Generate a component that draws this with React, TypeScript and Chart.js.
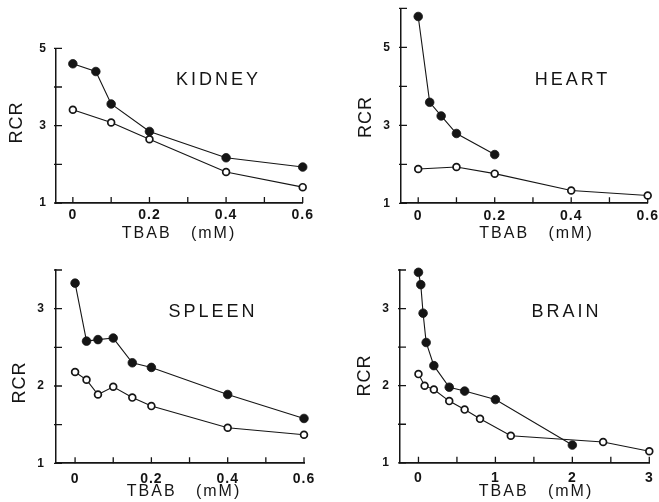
import React, { useEffect, useRef } from "react";
import { Chart, registerables } from "chart.js";

Chart.register(...registerables);

const FAMILY = '"Liberation Sans", Arial, Helvetica, sans-serif';
const INK = "#151515";

// ---------- KIDNEY ----------
const kidneyFilledX = [0, 0.06, 0.1, 0.2, 0.4, 0.6];
const kidneyFilledY = [4.6, 4.4, 3.56, 2.85, 2.17, 1.93];
const kidneyOpenX = [0, 0.1, 0.2, 0.4, 0.6];
const kidneyOpenY = [3.41, 3.08, 2.65, 1.8, 1.41];
const kidneyXTicks = [0, 0.1, 0.2, 0.3, 0.4, 0.5, 0.6];
const kidneyXLabels = ["0", "", "0.2", "", "0.4", "", "0.6"];
const kidneyYTicks = [1, 2, 3, 4, 5];
const kidneyYLabels = ["1", "", "3", "", "5"];

// ---------- HEART ----------
const heartFilledX = [0, 0.03, 0.06, 0.1, 0.2];
const heartFilledY = [5.79, 3.59, 3.24, 2.79, 2.25];
const heartOpenX = [0, 0.1, 0.2, 0.4, 0.6];
const heartOpenY = [1.88, 1.93, 1.76, 1.33, 1.2];
const heartXTicks = [0, 0.1, 0.2, 0.3, 0.4, 0.5, 0.6];
const heartXLabels = ["0", "", "0.2", "", "0.4", "", "0.6"];
const heartYTicks = [1, 2, 3, 4, 5, 6];
const heartYLabels = ["1", "", "3", "", "5", ""];

// ---------- SPLEEN ----------
const spleenFilledX = [0, 0.03, 0.06, 0.1, 0.15, 0.2, 0.4, 0.6];
const spleenFilledY = [3.33, 2.58, 2.6, 2.62, 2.3, 2.24, 1.89, 1.58];
const spleenOpenX = [0, 0.03, 0.06, 0.1, 0.15, 0.2, 0.4, 0.6];
const spleenOpenY = [2.18, 2.08, 1.89, 1.99, 1.85, 1.74, 1.46, 1.37];
const spleenXTicks = [0, 0.1, 0.2, 0.3, 0.4, 0.5, 0.6];
const spleenXLabels = ["0", "", "0.2", "", "0.4", "", "0.6"];
const spleenYTicks = [1, 1.5, 2, 2.5, 3, 3.5];
const spleenYLabels = ["1", "", "2", "", "3", ""];

// ---------- BRAIN ----------
const brainFilledX = [0, 0.03, 0.06, 0.1, 0.2, 0.4, 0.6, 1.0, 2.0];
const brainFilledY = [3.47, 3.31, 2.94, 2.56, 2.26, 1.98, 1.93, 1.82, 1.23];
const brainOpenX = [0, 0.08, 0.2, 0.4, 0.6, 0.8, 1.2, 2.4, 3.0];
const brainOpenY = [2.15, 2.0, 1.95, 1.8, 1.69, 1.57, 1.35, 1.27, 1.15];
const brainXTicks = [0, 0.5, 1, 1.5, 2, 2.5, 3];
const brainXLabels = ["0", "", "1", "", "2", "", "3"];
const brainYTicks = [1, 1.5, 2, 2.5, 3, 3.5];
const brainYLabels = ["1", "", "2", "", "3", ""];

const X_TITLE = "TBAB   (mM)";
const Y_TITLE = "RCR";

type Panel = {
  name: string;
  filledX: number[];
  filledY: number[];
  openX: number[];
  openY: number[];
  xTicks: number[];
  xLabels: string[];
  yTicks: number[];
  yLabels: string[];
  xMin: number;
  xMax: number;
  yMin: number;
  yMax: number;
  // layout
  left: number;
  top: number;
  w: number;
  h: number;
  area: { l: number; t: number; r: number; b: number };
  xPad: number;
  yPad: number;
  nameAt: [number, number];
  xTitleAt: [number, number];
  yTitleAt: [number, number];
};

const panels: Panel[] = [
  {
    name: "KIDNEY",
    filledX: kidneyFilledX, filledY: kidneyFilledY, openX: kidneyOpenX, openY: kidneyOpenY,
    xTicks: kidneyXTicks, xLabels: kidneyXLabels, yTicks: kidneyYTicks, yLabels: kidneyYLabels,
    xMin: -0.044, xMax: 0.6, yMin: 1, yMax: 5,
    left: 0, top: 0, w: 330, h: 250,
    area: { l: 56, t: 48.3, r: 302.7, b: 203 },
    xPad: 4, yPad: 9,
    nameAt: [217, 80.5], xTitleAt: [178, 233.5], yTitleAt: [17.5, 123],
  },
  {
    name: "HEART",
    filledX: heartFilledX, filledY: heartFilledY, openX: heartOpenX, openY: heartOpenY,
    xTicks: heartXTicks, xLabels: heartXLabels, yTicks: heartYTicks, yLabels: heartYLabels,
    xMin: -0.045, xMax: 0.6, yMin: 1, yMax: 6,
    left: 330, top: 0, w: 329, h: 250,
    area: { l: 71, t: 8.3, r: 317.7, b: 203.3 },
    xPad: 4, yPad: 10,
    nameAt: [241, 80.5], xTitleAt: [205.5, 233.5], yTitleAt: [36, 117.5],
  },
  {
    name: "SPLEEN",
    filledX: spleenFilledX, filledY: spleenFilledY, openX: spleenOpenX, openY: spleenOpenY,
    xTicks: spleenXTicks, xLabels: spleenXLabels, yTicks: spleenYTicks, yLabels: spleenYLabels,
    xMin: -0.05, xMax: 0.6, yMin: 1, yMax: 3.5,
    left: 0, top: 250, w: 330, h: 252,
    area: { l: 56, t: 20, r: 304, b: 213.3 },
    xPad: 7, yPad: 11,
    nameAt: [211.5, 62], xTitleAt: [183, 241.5], yTitleAt: [20, 133],
  },
  {
    name: "BRAIN",
    filledX: brainFilledX, filledY: brainFilledY, openX: brainOpenX, openY: brainOpenY,
    xTicks: brainXTicks, xLabels: brainXLabels, yTicks: brainYTicks, yLabels: brainYLabels,
    xMin: -0.24, xMax: 3, yMin: 1, yMax: 3.5,
    left: 330, top: 250, w: 329, h: 252,
    area: { l: 70, t: 20, r: 319.3, b: 212.8 },
    xPad: 7, yPad: 10,
    nameAt: [235, 62], xTitleAt: [205, 241.5], yTitleAt: [35, 126],
  },
];

function makeDecor(p: Panel) {
  return {
    id: "decor-" + p.name,
    beforeDraw(chart: any) {
      (chart.ctx as any).letterSpacing = "1px";
    },
    beforeDatasetsDraw(chart: any) {
      const ctx = chart.ctx;
      const { left, bottom } = chart.chartArea;
      const xs = chart.scales.x;
      const ys = chart.scales.y;
      ctx.save();
      ctx.strokeStyle = INK;
      ctx.lineWidth = 1.3;
      ctx.beginPath();
      xs.ticks.forEach((t: any) => {
        const px = xs.getPixelForValue(t.value);
        ctx.moveTo(px, bottom);
        ctx.lineTo(px, bottom - 6);
      });
      ys.ticks.forEach((t: any) => {
        const py = ys.getPixelForValue(t.value);
        ctx.moveTo(left - 2, py);
        ctx.lineTo(left + 6, py);
      });
      ctx.stroke();
      ctx.restore();
    },
    afterDraw(chart: any) {
      const ctx = chart.ctx;
      ctx.save();
      ctx.fillStyle = INK;
      ctx.textAlign = "center";
      ctx.textBaseline = "middle";
      // panel name
      (ctx as any).letterSpacing = "3px";
      ctx.font = `18px ${FAMILY}`;
      ctx.fillText(p.name, p.nameAt[0] + 1.5, p.nameAt[1]);
      // x title
      (ctx as any).letterSpacing = "2px";
      ctx.font = `16px ${FAMILY}`;
      ctx.fillText(X_TITLE, p.xTitleAt[0] + 1, p.xTitleAt[1]);
      // y title
      (ctx as any).letterSpacing = "1px";
      ctx.font = `18px ${FAMILY}`;
      ctx.translate(p.yTitleAt[0], p.yTitleAt[1]);
      ctx.rotate(-Math.PI / 2);
      ctx.fillText(Y_TITLE, 0.5, 0);
      ctx.restore();
    },
  };
}

function PanelChart({ p }: { p: Panel }) {
  const ref = useRef<HTMLCanvasElement | null>(null);
  useEffect(() => {
    if (!ref.current) return;
    const chart = new Chart(ref.current, {
      type: "scatter",
      data: {
        datasets: [
          {
            data: p.filledX.map((x, i) => ({ x, y: p.filledY[i] })),
            showLine: true,
            borderColor: INK,
            borderWidth: 1.1,
            pointRadius: 4.3,
            pointBackgroundColor: INK,
            pointBorderColor: INK,
            pointBorderWidth: 0.8,
            clip: false as any,
          },
          {
            data: p.openX.map((x, i) => ({ x, y: p.openY[i] })),
            showLine: true,
            borderColor: INK,
            borderWidth: 1.1,
            pointRadius: 3.4,
            pointBackgroundColor: "#ffffff",
            pointBorderColor: INK,
            pointBorderWidth: 1.7,
            clip: false as any,
          },
        ],
      },
      options: {
        responsive: false,
        animation: false,
        events: [],
        layout: {
          padding: { left: 0, top: p.area.t, right: p.w - p.area.r, bottom: 0 },
        },
        plugins: {
          legend: { display: false },
          tooltip: { enabled: false },
          title: { display: false },
        },
        scales: {
          x: {
            type: "linear",
            bounds: "data",
            min: p.xMin,
            max: p.xMax,
            grid: { display: false, drawTicks: false },
            border: { display: true, color: INK, width: 1.7 },
            ticks: {
              autoSkip: false,
              maxRotation: 0,
              padding: p.xPad,
              color: INK,
              font: { family: FAMILY, size: 14, weight: "bold" },
              callback: (_v: any, i: number) => p.xLabels[i] ?? "",
            },
            afterBuildTicks: (s: any) => {
              s.ticks = p.xTicks.map((v) => ({ value: v }));
            },
            afterFit: (s: any) => {
              s.height = p.h - p.area.b;
              s.paddingLeft = 0;
              s.paddingRight = 0;
            },
          },
          y: {
            type: "linear",
            bounds: "data",
            min: p.yMin,
            max: p.yMax,
            grid: { display: false, drawTicks: false },
            border: { display: true, color: INK, width: 1.5 },
            ticks: {
              autoSkip: false,
              padding: p.yPad,
              color: INK,
              font: { family: FAMILY, size: 12, weight: "bold" },
              callback: (_v: any, i: number) => p.yLabels[i] ?? "",
            },
            afterBuildTicks: (s: any) => {
              s.ticks = p.yTicks.map((v) => ({ value: v }));
            },
            afterFit: (s: any) => {
              s.width = p.area.l;
              s.paddingTop = 0;
              s.paddingBottom = 0;
            },
          },
        },
      } as any,
      plugins: [makeDecor(p)],
    });
    return () => chart.destroy();
  }, [p]);

  return (
    <canvas
      ref={ref}
      width={p.w}
      height={p.h}
      style={{
        position: "absolute",
        left: p.left,
        top: p.top,
        width: p.w,
        height: p.h,
        display: "block",
      }}
    />
  );
}

export default function App() {
  return (
    <div
      style={{
        position: "absolute",
        left: 0,
        top: 0,
        width: 659,
        height: 502,
        background: "#ffffff",
        overflow: "hidden",
      }}
    >
      {panels.map((p) => (
        <PanelChart key={p.name} p={p} />
      ))}
    </div>
  );
}
